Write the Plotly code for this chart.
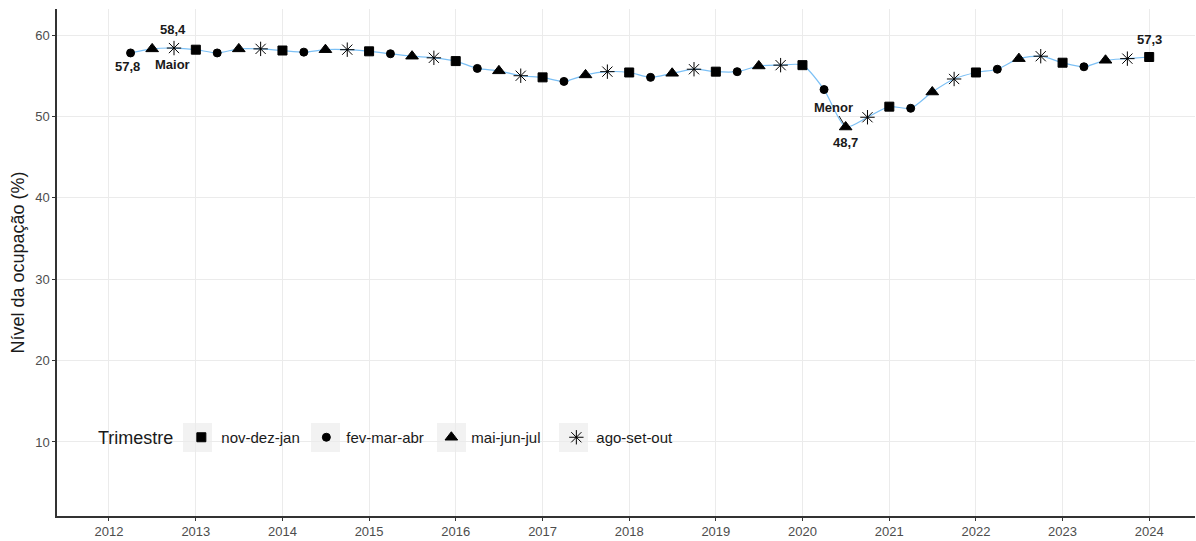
import plotly.graph_objects as go

# ---- data ----
years = [2012, 2013, 2014, 2015, 2016, 2017, 2018, 2019, 2020, 2021, 2022, 2023, 2024]
quarter_months = ["01", "04", "07", "10"]
trimestres = ["nov-dez-jan", "fev-mar-abr", "mai-jun-jul", "ago-set-out"]
valores = [
    57.8, 58.3, 58.4,
    58.2, 57.8, 58.3, 58.3,
    58.1, 57.9, 58.2, 58.2,
    58.0, 57.7, 57.4, 57.2,
    56.8, 55.9, 55.6, 55.0,
    54.8, 54.3, 55.1, 55.5,
    55.4, 54.8, 55.3, 55.8,
    55.5, 55.5, 56.2, 56.3,
    56.3, 53.3, 48.7, 49.9,
    51.2, 51.0, 53.0, 54.6,
    55.4, 55.8, 57.1, 57.4,
    56.6, 56.1, 56.9, 57.1,
    57.3,
]
y_ticks = [10, 20, 30, 40, 50, 60]

# build dates (first obs = fev-mar-abr 2012, plotted at Apr)
datas, tipo = [], []
for yr in years:
    for qi, m in enumerate(quarter_months):
        if yr == 2012 and qi == 0:
            continue
        if yr == 2024 and qi > 0:
            continue
        datas.append(f"{yr}-{m}-01")
        tipo.append(trimestres[qi])

simbolos = {"nov-dez-jan": ("square", 9), "fev-mar-abr": ("circle", 8),
            "mai-jun-jul": ("triangle-up", 11), "ago-set-out": ("asterisk-open", 12)}

FONT = "Liberation Sans, Arial, sans-serif"
fig = go.Figure()
fig.add_trace(go.Scatter(x=datas, y=valores, mode="lines",
                         line=dict(color="#7CC0F5", width=1.2, shape="spline", smoothing=0.7),
                         showlegend=False, hoverinfo="skip"))
for t in trimestres:
    xs = [d for d, k in zip(datas, tipo) if k == t]
    ys = [v for v, k in zip(valores, tipo) if k == t]
    sym, sz = simbolos[t]
    fig.add_trace(go.Scatter(x=xs, y=ys, mode="markers", name=t,
                             marker=dict(symbol=sym, size=sz, color="black",
                                         line=dict(color="black", width=1))))

# labels
i_max = valores.index(max(valores))
i_min = valores.index(min(valores))
def fmt(v):
    return f"{v:.1f}".replace(".", ",")
LBL = dict(family=FONT, size=13, color="#1A1A1A")
ann_style = dict(showarrow=False, font=LBL)
fig.add_annotation(x=datas[0], y=valores[0], text="<b>" + fmt(valores[0]) + "</b>",
                   xshift=-3, yshift=-14, **ann_style)
fig.add_annotation(x=datas[i_max], y=valores[i_max], text="<b>" + fmt(valores[i_max]) + "</b>",
                   xshift=-1, yshift=19, **ann_style)
fig.add_annotation(x=datas[i_max], y=valores[i_max], text="<b>Maior</b>",
                   xshift=-2, yshift=-16, **ann_style)
fig.add_annotation(x=datas[i_min], y=valores[i_min], text="<b>" + fmt(valores[i_min]) + "</b>",
                   yshift=-15, **ann_style)
fig.add_annotation(x=datas[i_min], y=valores[i_min], text="<b>Menor</b>",
                   ax=-12, ay=-20, showarrow=True, arrowhead=0, arrowwidth=1,
                   arrowcolor="#1A1A1A", standoff=3, font=LBL)
fig.add_annotation(x=datas[-1], y=valores[-1], text="<b>" + fmt(valores[-1]) + "</b>",
                   yshift=18, **ann_style)

# grey legend key backgrounds (ggplot style)
key_x = [(183, 212), (311, 340), (437, 466), (559, 588)]
L, R, T, B = 57, 1195, 9, 516
for x0, x1 in key_x:
    fig.add_shape(type="rect", xref="paper", yref="paper",
                  x0=(x0 - L) / (R - L), x1=(x1 - L) / (R - L),
                  y0=(B - 452) / (B - T), y1=(B - 423) / (B - T),
                  fillcolor="#F2F2F2", line=dict(width=0), layer="between")

fig.update_layout(
    width=1196, height=541,
    margin=dict(l=L, r=1196 - R, t=T, b=541 - B),
    plot_bgcolor="white", paper_bgcolor="white",
    font=dict(family=FONT, size=13, color="#4D4D4D"),
    legend=dict(orientation="h", x=(96 - L) / (R - L), y=(B - 438) / (B - T),
                xanchor="left", yanchor="middle",
                bgcolor="rgba(0,0,0,0)", entrywidth=80, entrywidthmode="pixels",
                title=dict(text="Trimestre", font=dict(size=18, color="#1A1A1A")),
                font=dict(size=15, color="#1A1A1A")),
)
fig.update_xaxes(type="date", range=["2011-05-27", "2024-07-12"],
                 tickvals=[f"{y}-01-01" for y in years], ticktext=[str(y) for y in years],
                 showgrid=True, gridcolor="#EBEBEB", gridwidth=1,
                 showline=True, linecolor="#333333", linewidth=1.5,
                 ticks="outside", ticklen=3, tickcolor="#333333",
                 tickfont=dict(size=13, color="#4D4D4D"), zeroline=False, automargin=False)
fig.update_yaxes(range=[0.9, 63.2], tickvals=y_ticks,
                 showgrid=True, gridcolor="#EBEBEB", gridwidth=1,
                 showline=True, linecolor="#333333", linewidth=1.5,
                 ticks="outside", ticklen=3, tickcolor="#333333",
                 tickfont=dict(size=13, color="#4D4D4D"), zeroline=False, automargin=False,
                 title=dict(text="Nível da ocupação (%)", font=dict(size=18, color="#1A1A1A"),
                            standoff=6))

fig.write_html("out.html", config={"displayModeBar": False},
               post_script="document.body.style.margin='0';")
